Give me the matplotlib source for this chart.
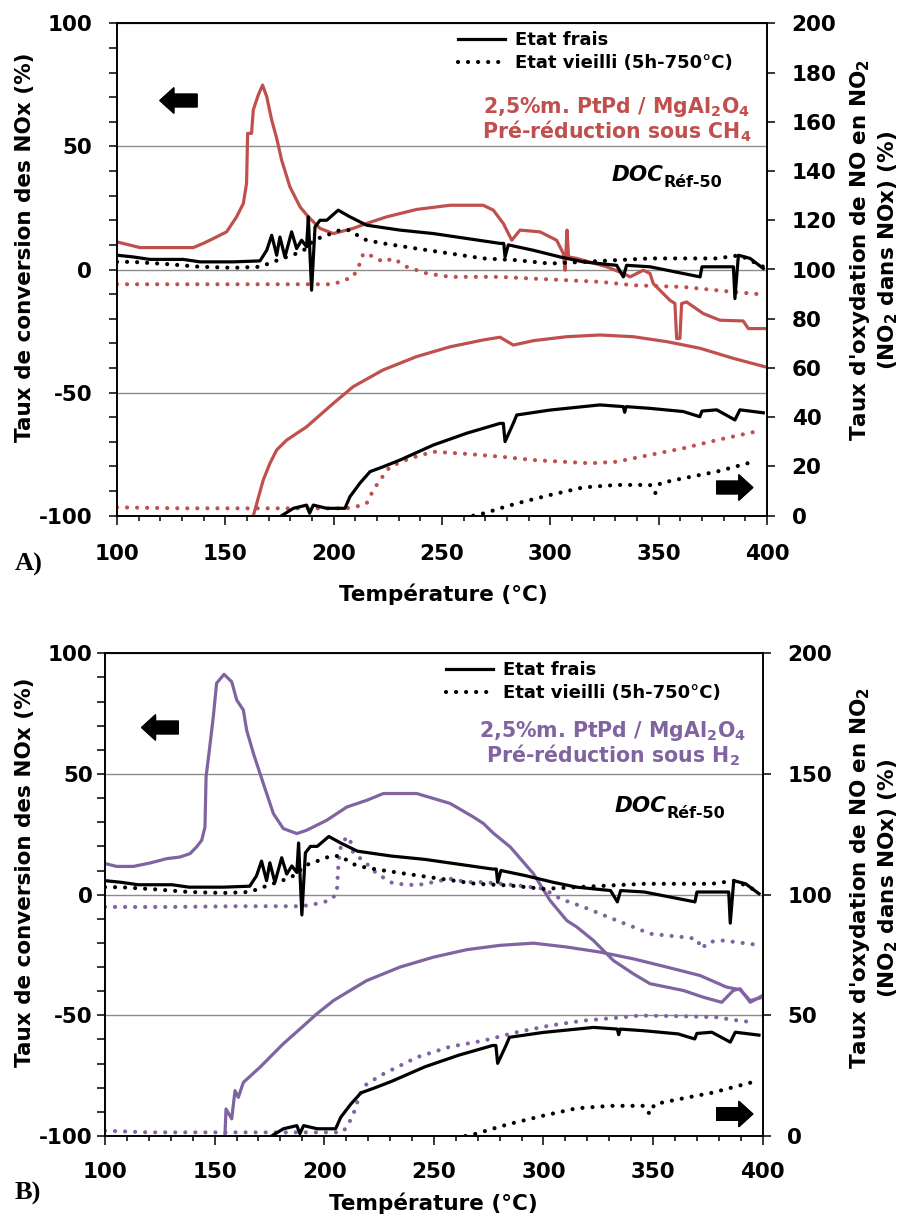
import numpy as np
import matplotlib.pyplot as plt
from matplotlib.ticker import MultipleLocator

plt.rcParams['font.family'] = 'DejaVu Sans'
plt.rcParams['font.weight'] = 'bold'
plt.rcParams['mathtext.default'] = 'bf'
plt.rcParams['axes.unicode_minus'] = False

W, H = 903, 1215

# reference catalyst (black), same in both panels
fresh_conv_T = [100, 107.5, 115.2, 130.6, 138.3, 153.7, 166, 169.1, 171.4, 173.7, 175.2, 177.5, 180.6, 182.9,
                185.2, 187.5, 188.3, 189.8, 191.4, 193.7, 196.8, 202.1, 207.5, 215.2, 230.6, 246, 261.4, 276.8,
                278.5, 279.1, 280.6, 292.2, 304.5, 315.2, 330.6, 333.7, 335.2, 346, 369.1, 370, 384.5, 385.2,
                386.8, 392.2, 398.3]
fresh_conv = [5.8, 5.1, 4.1, 4.1, 3.1, 3.1, 3.5, 7.8, 13.9, 5.8, 13.2, 5.1, 15.3, 8.5,
              11.9, 9.2, 21.4, -8.4, 17.3, 20.0, 20.0, 24.1, 21.4, 18.0, 16.0, 14.6, 12.6, 10.6,
              10.6, 5.1, 10.0, 7.8, 5.1, 3.1, 1.7, -3.0, 1.7, 1.1, -3.0, 1.1, 1.1, -11.8,
              5.8, 4.5, 0.4]

aged_conv_T = [100, 107, 122.9, 138.3, 153.7, 166, 172.1, 178.3, 182.9, 187.5, 190.6, 196.8, 202.9, 207.5,
               212.1, 215.2, 222.9, 238.3, 253.7, 269, 284.5, 299.8, 315.2, 330.6, 346, 361.4, 376.8, 387.5, 398.3]
aged_conv = [3.1, 3.1, 2.2, 1.1, 0.7, 1.1, 3.1, 5.1, 6.5, 8.5, 11.9, 13.9, 16.0, 16.0,
             13.2, 11.9, 10.6, 8.5, 6.5, 4.5, 3.8, 2.4, 3.1, 3.8, 4.5, 4.5, 4.5, 5.8, 1.1]

fresh_ox_T = [176, 181.4, 187.5, 188.9, 190.6, 196.8, 205.2, 207.5, 212.1, 216.8, 222.9, 230.6, 246, 261.4,
              276.8, 278.3, 279.1, 282.9, 284.5, 299.8, 315.2, 322.9, 333.7, 334.3, 335, 346, 361.4, 369,
              370, 376.8, 385.2, 387.5, 398.3]
fresh_ox = [0, 3.0, 4.3, 1.0, 4.3, 3.0, 3.0, 7.7, 13.2, 17.9, 19.9, 22.6, 28.7, 33.5,
            37.5, 37.5, 30.1, 37.5, 40.9, 42.9, 44.3, 45.0, 44.3, 42.0, 44.3, 43.6, 42.3, 40.2,
            42.5, 43.0, 38.9, 43.0, 41.8]

aged_ox_T = [264.4, 270.6, 275.2, 284.5, 299.8, 315.2, 330.6, 346, 348.4, 350.7, 361.4, 376.8, 395.3]
aged_ox = [0, 1.2, 2.6, 5.0, 8.4, 11.5, 12.5, 12.5, 9.1, 13.2, 15.2, 17.9, 22.3]

# panel A : pre-reduction under CH4 (red)
ch4_conv_T = [100, 110.6, 135.2, 139.8, 144.5, 150.6, 155.2, 158.3, 159.8, 160.3, 162.1, 162.9, 165.2, 167.2,
              169.1, 171.4, 173.7, 176, 179.8, 184.5, 188.3, 193.7, 199.8, 209, 215.2, 224.5, 238.3, 253.7,
              269, 273.7, 278.3, 282.2, 286, 295.2, 302.9, 306, 306.8, 307.7, 308.4, 312.2, 326, 333.7,
              336.8, 342.9, 346, 347.5, 355.2, 357.5, 358.3, 359.8, 360.6, 362.9, 370.6, 378.3, 389, 391.4, 399.8]
ch4_conv = [11.2, 8.9, 8.9, 10.6, 12.6, 15.3, 21.4, 26.8, 35, 55.3, 55.3, 64.8, 70.9, 74.9,
            70.2, 60.7, 53.3, 44.4, 33.6, 25.4, 21.4, 16.7, 14.6, 16.7, 18.7, 21.4, 24.4, 26.1,
            26.1, 24.1, 18.7, 11.9, 16, 15.3, 11.9, 6.5, -0.3, 16, 5.1, 4.5, 1.1, -1.6,
            -3.0, -0.3, -1.6, -5.7, -12.5, -13.8, -28, -28, -13.8, -13.2, -17.9, -20.6, -20.9, -24, -24]

ch4_ox_T = [162.9, 164.5, 167.5, 170.6, 173.7, 178.3, 187.5, 199.8, 209, 222.8, 238.2, 253.7, 269.1, 276.8,
            282.9, 292.2, 307.5, 322.9, 338.3, 353.7, 369.1, 384.5, 399.9]
ch4_ox = [0, 5.0, 14.5, 21.3, 26.7, 30.7, 36.1, 45.6, 52.4, 59.2, 64.6, 68.6, 71.4, 72.5,
          69.3, 71.1, 72.7, 73.4, 72.7, 70.7, 68.0, 63.9, 60.3]

ch4_aged_conv_T = [100, 120, 150, 180, 199.8, 202.9, 209, 212.1, 213.7, 216.8, 222.9, 227.5, 233.7, 243,
                   253.7, 276.8, 292, 322.9, 338.3, 361.4, 384.5, 396]
ch4_aged_conv = [-6.0, -6.0, -6.0, -6.0, -6.0, -5.0, -3.0, 2.4, 6.5, 5.8, 3.1, 4.5, 1.1, -1.6,
                 -3.0, -3.0, -3.7, -5.0, -6.4, -7.1, -9.1, -10.0]

ch4_aged_ox_T = [100, 130, 160, 190, 206, 210.5, 215.2, 218.3, 221.4, 226, 235.2, 246, 261.4, 276.8,
                 292.2, 318.3, 330.6, 346, 361.4, 376.8, 396]
ch4_aged_ox = [3.4, 3.0, 3.0, 3.0, 3.0, 3.7, 5.0, 10.4, 14.5, 19.9, 23.3, 26.0, 25.1, 24.0,
               22.6, 21.3, 21.9, 24.7, 27.4, 30.7, 34.4]

# panel B : pre-reduction under H2 (purple)
h2_conv_T = [100, 105.3, 112.9, 120.5, 128.1, 134.2, 138.8, 141.8, 144.1, 145.6, 146.1, 147.6, 149.4, 150.9,
             154.3, 157.8, 160.1, 163.1, 164.6, 167.7, 172.2, 176.8, 181.3, 187.5, 192.0, 201.1, 210.3, 219.4,
             227.0, 242.2, 257.4, 268.0, 272.6, 277.1, 284.8, 295.4, 303.0, 310.6, 315.2, 322.8, 331.9, 341.0,
             348.6, 363.8, 372.9, 381.3, 386.6, 389.7, 394.3, 400]
h2_conv = [12.9, 11.7, 11.7, 13.1, 14.9, 15.6, 17.0, 19.8, 22.5, 28.0, 48.8, 59.9, 73.7, 87.6,
           91.3, 88.2, 80.6, 76.5, 68.2, 58.5, 46.1, 33.6, 27.4, 25.3, 26.7, 30.8, 36.3, 39.1,
           41.9, 41.9, 37.8, 32.2, 29.5, 25.5, 19.8, 8.7, -2.4, -10.7, -13.4, -19.0, -27.3, -32.8,
           -36.9, -39.7, -42.5, -44.6, -39.7, -39.0, -44.6, -41.8]

h2_ox_T = [154.7, 155.2, 157.8, 159.3, 160.8, 163.1, 170.7, 181.3, 189.0, 196.6, 204.2, 211.8, 219.4, 234.6,
           249.8, 265.0, 280.2, 295.4, 310.6, 325.8, 341.0, 356.2, 371.4, 383.5, 389.7, 394.3, 400]
h2_ox = [0, 11.2, 7.1, 18.8, 16.0, 22.2, 28.5, 38.2, 44.4, 50.6, 56.1, 60.3, 64.4, 70.0,
         74.1, 77.2, 79.0, 79.9, 78.3, 76.2, 73.4, 70.0, 66.5, 61.7, 60.6, 56.1, 57.5]

h2_aged_conv_T = [100, 130, 160, 187.5, 193.5, 202.6, 205.7, 206.4, 207.1, 208.7, 211.5, 213.3, 217.8, 224.0,
                  231.5, 242.2, 249.8, 257.4, 265.0, 272.6, 287.8, 300, 307.6, 318.2, 333.4, 341.0, 348.6,
                  356.2, 363.8, 369.9, 372.2, 375.2, 382.1, 395.8]
h2_aged_conv = [-5.1, -5.1, -4.8, -4.8, -4.4, -2.4, 0.4, 11.5, 18.4, 22.5, 23.9, 17.0, 14.2, 8.7,
                4.6, 3.9, 5.2, 6.6, 5.2, 5.2, 3.9, 2.5, -1.7, -5.1, -10.7, -13.4, -16.2,
                -16.9, -17.6, -18.3, -22.4, -19.6, -19.0, -20.6]

h2_aged_ox_T = [100, 120, 150, 180, 208, 210.3, 213.3, 216.3, 219.4, 227.0, 242.2, 257.4, 272.6, 287.8,
                303.0, 318.2, 333.4, 344.1, 363.8, 379.0, 386.6, 395.8]
h2_aged_ox = [2.2, 1.5, 1.5, 1.5, 1.5, 3.6, 9.1, 17.4, 21.6, 25.7, 32.6, 37.0, 39.5, 43.0,
              45.8, 47.8, 49.0, 49.9, 49.6, 49.2, 48.1, 47.1]

red = '#C0504D'
purple = '#8064A2'
dots = dict(ls=(0, (0.01, 2.4)), lw=3.0, dash_capstyle='round')
solid = dict(ls='-', lw=2.3)

fig = plt.figure(figsize=(W / 100, H / 100), dpi=100)


def fx(x):
    return x / W


def fy(y):
    return 1 - y / H


def arrow(x0, x1, y):
    fig.add_artist(plt.annotate('', xy=(fx(x1), fy(y)), xytext=(fx(x0), fy(y)), xycoords='figure fraction',
                                arrowprops=dict(arrowstyle='simple,head_length=0.55,head_width=1.0,tail_width=0.5',
                                                mutation_scale=18, fc='black', ec='black', shrinkA=0, shrinkB=0)))


def panel(left, top, right, bottom, col, conv_T, conv, ox_T, ox, aconv_T, aconv, aox_T, aox,
          right_step, ypad, xpad):
    ax = fig.add_axes([fx(left), fy(bottom), fx(right) - fx(left), fy(top) - fy(bottom)])
    ax2 = ax.twinx()

    ax.plot(aconv_T, aconv, color=col, **dots)
    ax.plot(conv_T, conv, color=col, **solid)
    l_aged, = ax.plot(aged_conv_T, aged_conv, color='black', **dots)
    l_fresh, = ax.plot(fresh_conv_T, fresh_conv, color='black', **solid)

    ax2.plot(aox_T, aox, color=col, **dots)
    ax2.plot(ox_T, ox, color=col, **solid)
    ax2.plot(aged_ox_T, aged_ox, color='black', **dots)
    ax2.plot(fresh_ox_T, fresh_ox, color='black', **solid)

    ax.set_xlim(100, 400)
    ax.set_ylim(-100, 100)
    ax2.set_ylim(0, 200)
    ax.xaxis.set_major_locator(MultipleLocator(50))
    ax.xaxis.set_minor_locator(MultipleLocator(10))
    ax.yaxis.set_major_locator(MultipleLocator(50))
    ax.yaxis.set_minor_locator(MultipleLocator(10))
    ax2.yaxis.set_major_locator(MultipleLocator(right_step))
    ax.yaxis.grid(True, which='major', color='#8c8c8c', lw=1.0)
    ax.set_axisbelow(True)

    ax.tick_params(axis='y', which='both', direction='out', length=5.8, width=1.1, pad=ypad, labelsize=15.5)
    ax.tick_params(axis='x', which='major', direction='out', length=6.5, width=1.1, pad=xpad, labelsize=15.5)
    ax.tick_params(axis='x', which='minor', direction='out', length=3.5, width=1.1)
    ax2.tick_params(axis='y', direction='out', length=5.8, width=1.1, pad=12, labelsize=15.5)
    for a in (ax, ax2):
        for s in a.spines.values():
            s.set_linewidth(1.2)
    return ax, ax2, l_fresh, l_aged


def decorate(ax2, l_fresh, l_aged, col, gas, leg_x, leg_y, cx, b1, b2, doc_x, doc_y,
             larrow, lay, rarrow, ray, xl_x, xl_y, lab, lab_y, yl_y, yr_y):
    ax2.legend([l_fresh, l_aged], ['Etat frais', 'Etat vieilli (5h-750°C)'], loc='upper left',
               bbox_to_anchor=(fx(leg_x), fy(leg_y)), bbox_transform=fig.transFigure, frameon=False,
               fontsize=13, handlelength=2.6, handletextpad=0.55, borderpad=0, borderaxespad=0,
               labelspacing=0.3)
    fig.text(fx(cx), fy(b1), '2,5%m. PtPd / MgAl$_2$O$_4$', color=col, fontsize=14.8,
             ha='center', va='baseline')
    fig.text(fx(cx), fy(b2), 'Pré-réduction sous ' + gas, color=col, fontsize=14.8,
             ha='center', va='baseline')
    fig.text(fx(doc_x), fy(doc_y), 'DOC', fontsize=15.5, fontstyle='italic', va='baseline')
    fig.text(fx(doc_x + 52), fy(doc_y + 6.6), 'Réf-50', fontsize=11.5, va='baseline')
    arrow(larrow[1], larrow[0], lay)
    arrow(rarrow[0], rarrow[1], ray)
    fig.text(fx(xl_x), fy(xl_y), 'Température (°C)', fontsize=15.5, ha='center', va='baseline')
    fig.text(fx(15), fy(lab_y), lab, fontsize=19, family='Liberation Serif', va='baseline')
    fig.text(fx(25), fy(yl_y), 'Taux de conversion des NOx (%)', fontsize=15.5, rotation=90,
             ha='center', va='center')
    fig.text(fx(860), fy(yr_y), "Taux d'oxydation de NO en NO$_2$", fontsize=15.5, rotation=90,
             ha='center', va='center')
    fig.text(fx(888), fy(yr_y), '(NO$_2$ dans NOx) (%)', fontsize=15.5, rotation=90,
             ha='center', va='center')


ax, ax2, lf, la = panel(117, 23.3, 767, 515.7, red, ch4_conv_T, ch4_conv, ch4_ox_T, ch4_ox,
                        ch4_aged_conv_T, ch4_aged_conv, ch4_aged_ox_T, ch4_aged_ox, 20, 12, 14)
decorate(ax2, lf, la, red, 'CH$_4$', 458, 31, 617, 113.3, 138.3, 611.7, 180.7,
         (160, 197), 100.5, (716.7, 752.7), 487.5, 443, 601, 'A)', 571, 247, 250)

bx, bx2, lf, la = panel(105, 653.3, 762.7, 1136, purple, h2_conv_T, h2_conv, h2_ox_T, h2_ox,
                        h2_aged_conv_T, h2_aged_conv, h2_aged_ox_T, h2_aged_ox, 50, 3, 12)
decorate(bx2, lf, la, purple, 'H$_2$', 446, 661, 612.5, 736.7, 762.7, 615, 811.7,
         (141.7, 178.3), 727.5, (716.7, 752.7), 1114, 433, 1210, 'B)', 1200, 872, 878)

fig.savefig('out.png', dpi=100)
